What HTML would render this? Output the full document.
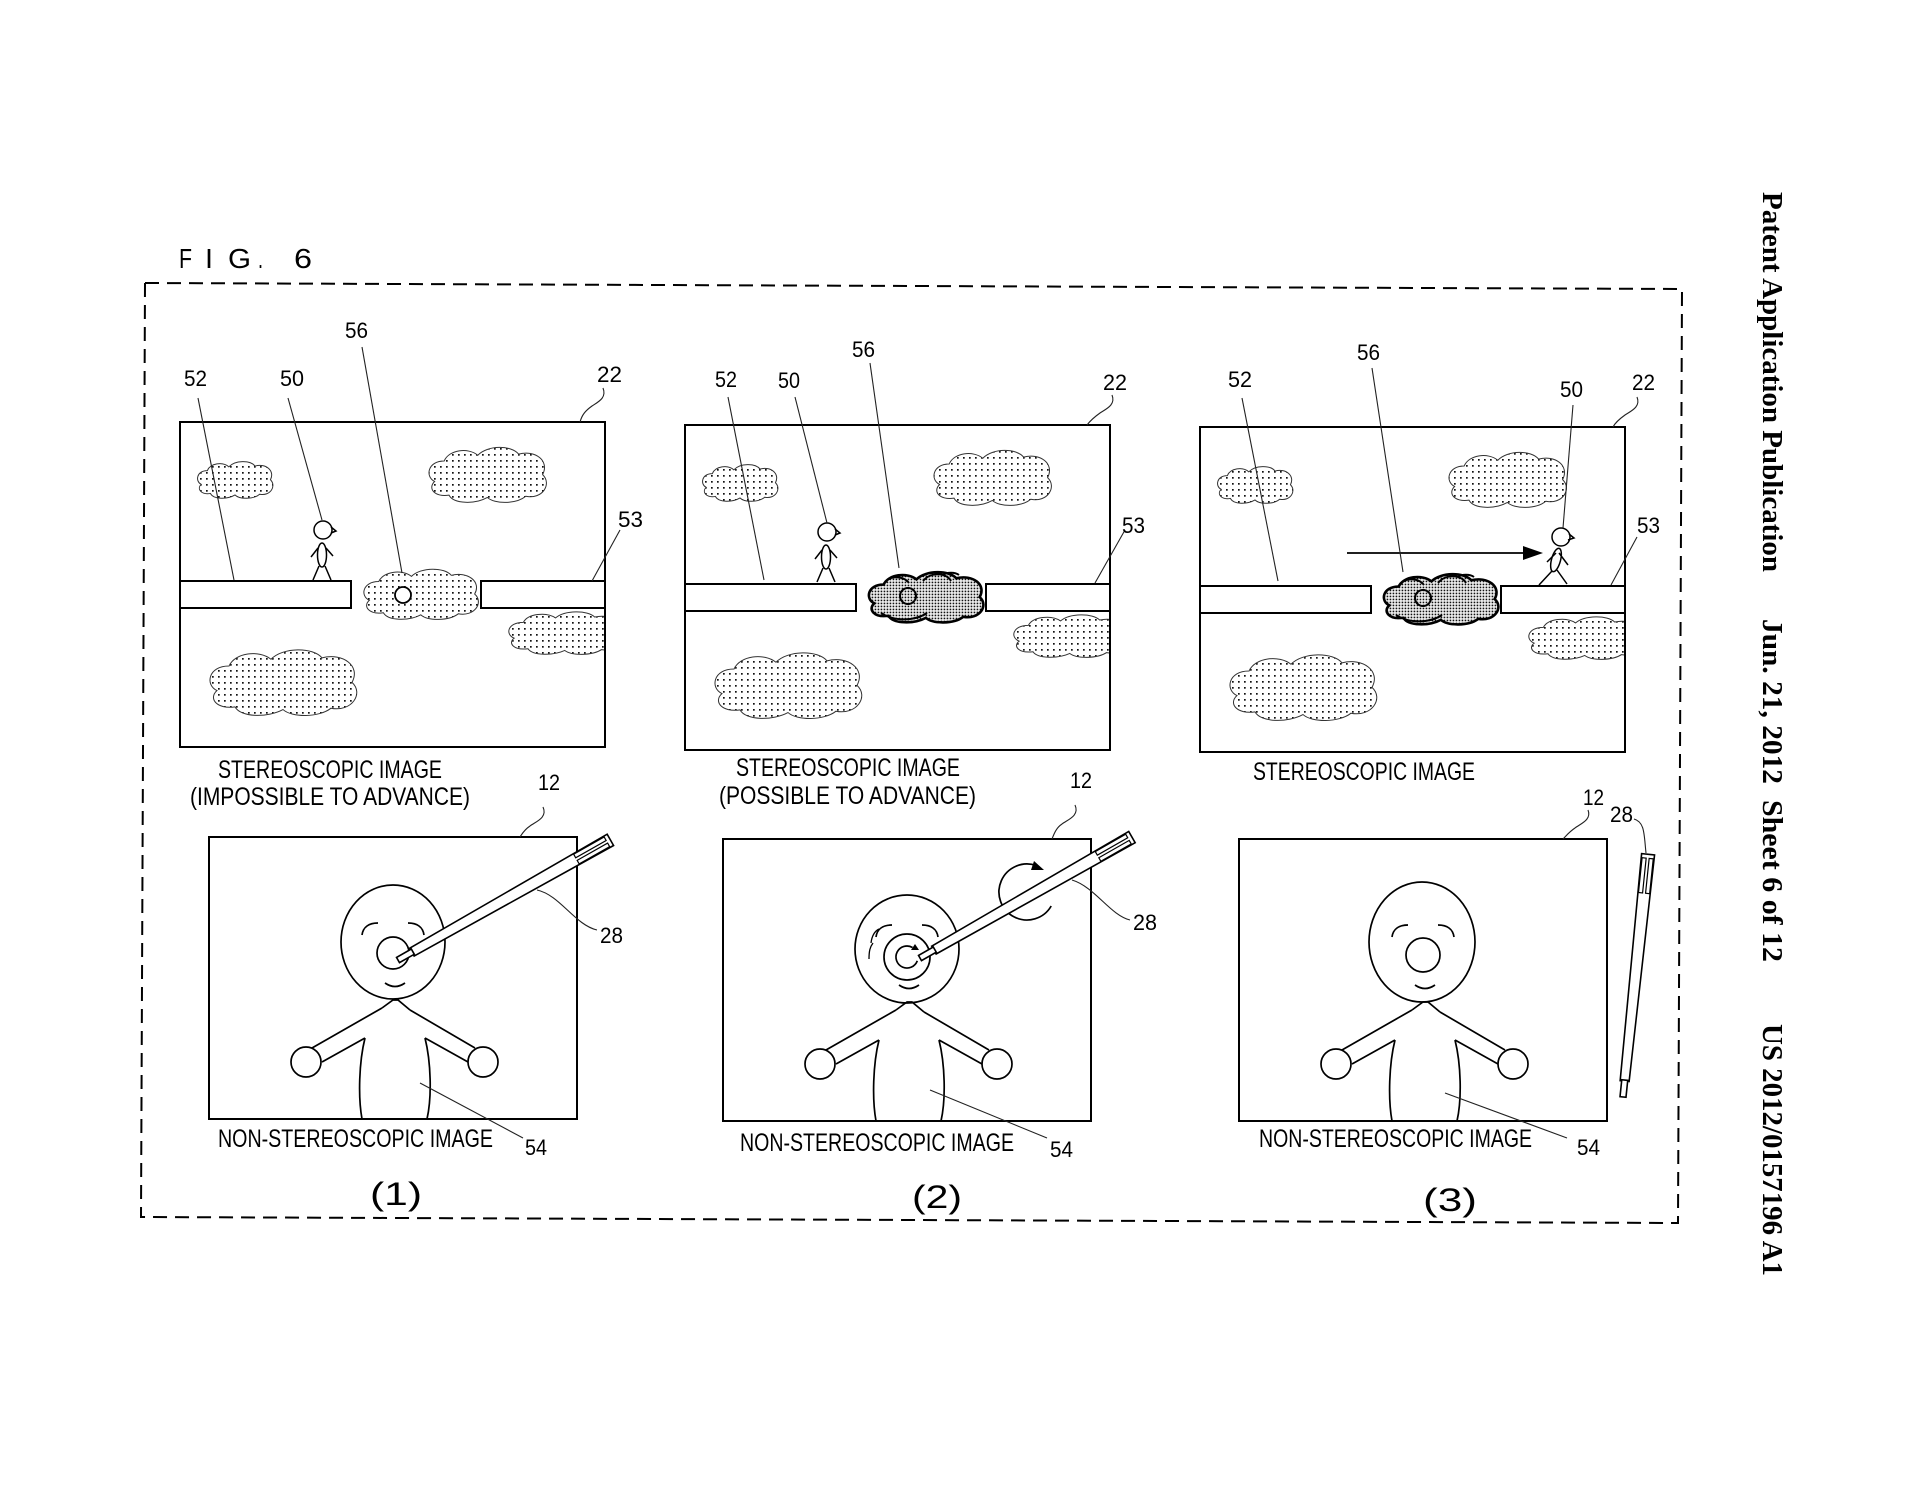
<!DOCTYPE html>
<html><head><meta charset="utf-8">
<style>
html,body{margin:0;padding:0;background:#fff;width:1920px;height:1489px;overflow:hidden;}
svg{display:block;}
.n{font-size:22px;}
.t{font-size:25px;}
.ln{fill:none;stroke:#222;stroke-width:1.1;}
</style>
</head><body>
<svg width="1920" height="1489" viewBox="0 0 1920 1489" xmlns="http://www.w3.org/2000/svg" xmlns:xlink="http://www.w3.org/1999/xlink" font-family="'Liberation Sans', sans-serif">
<defs>
 <pattern id="dl" width="6" height="6" patternUnits="userSpaceOnUse"><rect x="2" y="2" width="1.7" height="1.7" fill="#111"/></pattern>
 <pattern id="dd" width="3" height="3" patternUnits="userSpaceOnUse"><rect x="0.6" y="0.6" width="1.7" height="1.7" fill="#111"/></pattern>
 <path id="cl" vector-effect="non-scaling-stroke" d="M8,32 C0,28 2,14 16,14 C20,4 36,2 44,9 C52,0 72,0 78,8 C92,4 104,14 98,26 C106,34 98,48 84,45 C76,52 58,52 52,46 C42,52 24,52 20,44 C8,46 2,38 8,32 Z"/>
 <clipPath id="cA"><use xlink:href="#cl" href="#cl" transform="translate(15,38) scale(0.77,0.76)"/></clipPath>
 <clipPath id="cB"><use xlink:href="#cl" href="#cl" transform="translate(245,23) scale(1.2,1.14)"/></clipPath>
 <clipPath id="cC"><use xlink:href="#cl" href="#cl" transform="translate(180,145) scale(1.17,1.04)"/></clipPath>
 <clipPath id="cD"><use xlink:href="#cl" href="#cl" transform="translate(325,188) scale(1.15,0.88)"/></clipPath>
 <clipPath id="cE"><use xlink:href="#cl" href="#cl" transform="translate(25,225) scale(1.5,1.36)"/></clipPath>
 <clipPath id="box"><rect x="0" y="0" width="425" height="325"/></clipPath>

 <g id="ub">
  <rect x="0" y="0" width="425" height="325" fill="#fff"/>
  <g clip-path="url(#box)">
   <rect x="0" y="0" width="425" height="325" fill="url(#dl)" clip-path="url(#cA)"/>
   <rect x="0" y="0" width="425" height="325" fill="url(#dl)" clip-path="url(#cB)"/>
   <rect x="0" y="0" width="425" height="325" fill="url(#dl)" clip-path="url(#cD)"/>
   <rect x="0" y="0" width="425" height="325" fill="url(#dl)" clip-path="url(#cE)"/>
   <g fill="none" stroke="#333" stroke-width="1">
    <use xlink:href="#cl" href="#cl" transform="translate(15,38) scale(0.77,0.76)"/>
    <use xlink:href="#cl" href="#cl" transform="translate(245,23) scale(1.2,1.14)"/>
    <use xlink:href="#cl" href="#cl" transform="translate(325,188) scale(1.15,0.88)"/>
    <use xlink:href="#cl" href="#cl" transform="translate(25,225) scale(1.5,1.36)"/>
   </g>
  </g>
  <rect x="0" y="159" width="171" height="27" fill="#fff" stroke="#000" stroke-width="2"/>
  <rect x="301" y="159" width="124" height="27" fill="#fff" stroke="#000" stroke-width="2"/>
  <rect x="0" y="0" width="425" height="325" fill="none" stroke="#000" stroke-width="2"/>
 </g>

 <g id="man" fill="none" stroke="#000" stroke-width="1.5">
  <circle cx="143" cy="108" r="9" fill="#fff"/>
  <path d="M151,105 L156,109 L151,111"/>
  <ellipse cx="142" cy="133" rx="4.5" ry="12"/>
  <path d="M139,144 L133,158 M145,144 L151,158 M138,126 L131,135 M146,126 L153,134"/>
 </g>

 <g id="dark">
  <rect x="170" y="135" width="140" height="70" fill="url(#dd)" clip-path="url(#cC)"/>
  <use xlink:href="#cl" href="#cl" transform="translate(180,145) scale(1.17,1.04)" fill="none" stroke="#000" stroke-width="2.6"/>
  <path d="M198,160 C203,150 218,150 224,158 M238,156 C246,146 262,148 266,156 M196,188 C210,197 230,196 242,188 M258,150 C262,147 270,147 274,150" fill="none" stroke="#000" stroke-width="2"/>
  <circle cx="223" cy="171" r="8" fill="none" stroke="#000" stroke-width="2"/>
 </g>

 <g id="lb" fill="none" stroke="#000" stroke-width="1.7">
  <rect x="0" y="0" width="368" height="282" fill="#fff" stroke-width="2"/>
  <path d="M153,98 C154,90 160,86 169,86"/>
  <path d="M199,86 C208,86 214,90 215,98"/>
  <path d="M176,146 Q186,153 196,146"/>
  <path d="M173,171 L184,163 L189,163 L201,173"/>
  <path d="M173,171 L103,211 M156,201 L113,225 M201,173 L266,211 M216,201 L259,225"/>
  <circle cx="97" cy="225" r="15"/>
  <circle cx="274" cy="225" r="15"/>
  <path d="M156,201 C150,225 149,260 153,282 M216,201 C222,225 223,260 218,282"/>
 </g>

 <g id="sty" fill="#fff" stroke="#000" stroke-width="1.6">
  <path d="M16,-4.5 L244,-6.5 L244,6.5 L16,4.5 Z"/>
  <rect x="0" y="-3" width="17" height="6"/>
  <path d="M205,-5.6 L240,-5.6 L240,-1.5 L205,-1.5 Z M205,1.5 L240,1.5 L240,5.6 L205,5.6 Z" fill="none" stroke-width="1.2"/>
 </g>
</defs>

<path d="M145,283 L1682,289 L1678,1223 L141,1217 Z" fill="none" stroke="#000" stroke-width="2" stroke-dasharray="14 8"/>

<g font-size="28">
 <text x="179" y="268" textLength="13" lengthAdjust="spacingAndGlyphs">F</text>
 <text x="205" y="268" textLength="8" lengthAdjust="spacingAndGlyphs">I</text>
 <text x="228" y="268" textLength="23" lengthAdjust="spacingAndGlyphs">G</text>
 <text x="258" y="268" textLength="5" lengthAdjust="spacingAndGlyphs">.</text>
 <text x="294" y="268" textLength="18" lengthAdjust="spacingAndGlyphs">6</text>
</g>

<g transform="translate(180,422)">
 <use xlink:href="#ub" href="#ub"/>
 <rect x="170" y="135" width="140" height="70" fill="url(#dl)" clip-path="url(#cC)"/>
 <use xlink:href="#cl" href="#cl" transform="translate(180,145) scale(1.17,1.04)" fill="none" stroke="#333" stroke-width="1"/>
 <circle cx="223" cy="173" r="8" fill="#fff" stroke="#000" stroke-width="1.8"/>
 <use xlink:href="#man" href="#man"/>
</g>

<g transform="translate(685,425)">
 <use xlink:href="#ub" href="#ub"/>
 <use xlink:href="#dark" href="#dark"/>
 <use xlink:href="#man" href="#man" transform="translate(-1,-1)"/>
</g>

<g transform="translate(1200,427)">
 <use xlink:href="#ub" href="#ub"/>
 <use xlink:href="#dark" href="#dark"/>
 <g fill="none" stroke="#000" stroke-width="1.5">
  <circle cx="361" cy="110" r="9" fill="#fff"/>
  <path d="M369,107 L374,111 L368,113"/>
  <ellipse cx="356" cy="133" rx="4.5" ry="12" transform="rotate(15 356 133)"/>
  <path d="M352,144 L339,158 M357,143 L367,157 M356,126 L347,135 M359,126 L368,138"/>
  <path d="M147,126 L324,126" stroke-width="1.8"/>
 </g>
 <path d="M323,119 L343,126 L323,133 Z" fill="#000"/>
</g>

<g class="ln">
 <path d="M198,398 L234,580"/>
 <path d="M288,398 L322,520"/>
 <path d="M362,347 L402,573"/>
 <path d="M603,388 C607,398 598,402 592,406 C585,411 582,415 580,422"/>
 <path d="M620,530 L592,581"/>

 <path d="M728,397 L764,580"/>
 <path d="M795,397 L827,523"/>
 <path d="M870,363 L899,568"/>
 <path d="M1112,395 C1116,405 1106,409 1100,413 C1093,418 1090,421 1087,425"/>
 <path d="M1125,530 L1095,583"/>

 <path d="M1242,398 L1278,581"/>
 <path d="M1372,368 L1403,572"/>
 <path d="M1573,405 L1563,528"/>
 <path d="M1637,397 C1641,407 1631,411 1625,415 C1618,420 1615,423 1613,427"/>
 <path d="M1637,537 L1611,585"/>
</g>

<g transform="translate(209,837)">
 <use xlink:href="#lb" href="#lb"/>
 <g fill="none" stroke="#000" stroke-width="1.7">
  <ellipse cx="184" cy="105" rx="52" ry="57"/>
  <circle cx="184" cy="116" r="16"/>
 </g>
</g>
<use xlink:href="#sty" href="#sty" transform="translate(398,960) rotate(-29.5)"/>

<g transform="translate(723,839)">
 <use xlink:href="#lb" href="#lb"/>
 <g fill="none" stroke="#000" stroke-width="1.7">
  <ellipse cx="184" cy="110" rx="52" ry="54"/>
  <circle cx="184" cy="118" r="23"/>
  <path d="M194.3,121.8 A11,11 0 1 1 189.5,108.5"/>
  <path d="M148,104 C149,96 152,92 156,90 M146,120 C146,112 147,108 150,104" stroke-width="1.3"/>
  <path d="M328.2,67 A28,28 0 1 1 313.6,26.7"/>
 </g>
 <path d="M192,105 L196,111 L188,111 Z" fill="#000"/>
 <path d="M321,31 L311,22 L308,31 Z" fill="#000"/>
</g>
<use xlink:href="#sty" href="#sty" transform="translate(920,958) rotate(-29.7)"/>

<g transform="translate(1239,839)">
 <use xlink:href="#lb" href="#lb"/>
 <g fill="none" stroke="#000" stroke-width="1.7">
  <ellipse cx="183" cy="103" rx="53" ry="60"/>
  <circle cx="184" cy="116" r="17"/>
 </g>
</g>
<use xlink:href="#sty" href="#sty" transform="translate(1623,1097) rotate(-84.1)"/>

<g class="ln">
 <path d="M543,807 C548,818 535,822 530,826 C524,830 522,834 520,837"/>
 <path d="M537,890 C560,895 575,925 597,930"/>
 <path d="M420,1083 L523,1138"/>

 <path d="M1075,805 C1080,816 1067,820 1062,824 C1056,828 1054,834 1052,839"/>
 <path d="M1072,880 C1095,887 1110,915 1130,920"/>
 <path d="M930,1090 L1047,1138"/>

 <path d="M1588,810 C1592,820 1580,824 1575,828 C1569,832 1566,836 1563,839"/>
 <path d="M1634,819 C1645,822 1644,835 1646,853"/>
 <path d="M1445,1093 L1567,1138"/>
</g>

<g fill="#000">
 <text class="n" x="345" y="338" textLength="23" lengthAdjust="spacingAndGlyphs">56</text>
 <text class="n" x="184" y="386" textLength="23" lengthAdjust="spacingAndGlyphs">52</text>
 <text class="n" x="280" y="386" textLength="24" lengthAdjust="spacingAndGlyphs">50</text>
 <text class="n" x="597" y="382" textLength="25" lengthAdjust="spacingAndGlyphs">22</text>
 <text class="n" x="618" y="527" textLength="25" lengthAdjust="spacingAndGlyphs">53</text>
 <text class="t" x="218" y="778" textLength="224" lengthAdjust="spacingAndGlyphs">STEREOSCOPIC IMAGE</text>
 <text class="t" x="190" y="805" textLength="280" lengthAdjust="spacingAndGlyphs">(IMPOSSIBLE TO ADVANCE)</text>
 <text class="n" x="538" y="790" textLength="22" lengthAdjust="spacingAndGlyphs">12</text>
 <text class="n" x="600" y="943" textLength="23" lengthAdjust="spacingAndGlyphs">28</text>
 <text class="t" x="218" y="1147" textLength="275" lengthAdjust="spacingAndGlyphs">NON-STEREOSCOPIC IMAGE</text>
 <text class="n" x="525" y="1155" textLength="22" lengthAdjust="spacingAndGlyphs">54</text>
 <text x="370" y="1205" font-size="32" textLength="52" lengthAdjust="spacingAndGlyphs">(1)</text>

 <text class="n" x="715" y="387" textLength="22" lengthAdjust="spacingAndGlyphs">52</text>
 <text class="n" x="778" y="388" textLength="22" lengthAdjust="spacingAndGlyphs">50</text>
 <text class="n" x="852" y="357" textLength="23" lengthAdjust="spacingAndGlyphs">56</text>
 <text class="n" x="1103" y="390" textLength="24" lengthAdjust="spacingAndGlyphs">22</text>
 <text class="n" x="1122" y="533" textLength="23" lengthAdjust="spacingAndGlyphs">53</text>
 <text class="t" x="736" y="776" textLength="224" lengthAdjust="spacingAndGlyphs">STEREOSCOPIC IMAGE</text>
 <text class="t" x="719" y="804" textLength="257" lengthAdjust="spacingAndGlyphs">(POSSIBLE TO ADVANCE)</text>
 <text class="n" x="1070" y="788" textLength="22" lengthAdjust="spacingAndGlyphs">12</text>
 <text class="n" x="1133" y="930" textLength="24" lengthAdjust="spacingAndGlyphs">28</text>
 <text class="t" x="740" y="1151" textLength="274" lengthAdjust="spacingAndGlyphs">NON-STEREOSCOPIC IMAGE</text>
 <text class="n" x="1050" y="1157" textLength="23" lengthAdjust="spacingAndGlyphs">54</text>
 <text x="912" y="1208" font-size="32" textLength="50" lengthAdjust="spacingAndGlyphs">(2)</text>

 <text class="n" x="1228" y="387" textLength="24" lengthAdjust="spacingAndGlyphs">52</text>
 <text class="n" x="1357" y="360" textLength="23" lengthAdjust="spacingAndGlyphs">56</text>
 <text class="n" x="1560" y="397" textLength="23" lengthAdjust="spacingAndGlyphs">50</text>
 <text class="n" x="1632" y="390" textLength="23" lengthAdjust="spacingAndGlyphs">22</text>
 <text class="n" x="1637" y="533" textLength="23" lengthAdjust="spacingAndGlyphs">53</text>
 <text class="t" x="1253" y="780" textLength="222" lengthAdjust="spacingAndGlyphs">STEREOSCOPIC IMAGE</text>
 <text class="n" x="1583" y="805" textLength="21" lengthAdjust="spacingAndGlyphs">12</text>
 <text class="n" x="1610" y="822" textLength="23" lengthAdjust="spacingAndGlyphs">28</text>
 <text class="t" x="1259" y="1147" textLength="273" lengthAdjust="spacingAndGlyphs">NON-STEREOSCOPIC IMAGE</text>
 <text class="n" x="1577" y="1155" textLength="23" lengthAdjust="spacingAndGlyphs">54</text>
 <text x="1423" y="1211" font-size="32" textLength="54" lengthAdjust="spacingAndGlyphs">(3)</text>
</g>

<g font-family="'Liberation Serif', serif" font-weight="bold" font-size="28" fill="#000">
 <text transform="translate(1763,192) rotate(90)" x="0" y="0" textLength="380" lengthAdjust="spacingAndGlyphs">Patent Application Publication</text>
 <text transform="translate(1763,619) rotate(90)" x="0" y="0" textLength="165" lengthAdjust="spacingAndGlyphs">Jun. 21, 2012</text>
 <text transform="translate(1763,800) rotate(90)" x="0" y="0" textLength="162" lengthAdjust="spacingAndGlyphs">Sheet 6 of 12</text>
 <text transform="translate(1763,1024) rotate(90)" x="0" y="0" textLength="252" lengthAdjust="spacingAndGlyphs">US 2012/0157196 A1</text>
</g>
</svg>
</body></html>
